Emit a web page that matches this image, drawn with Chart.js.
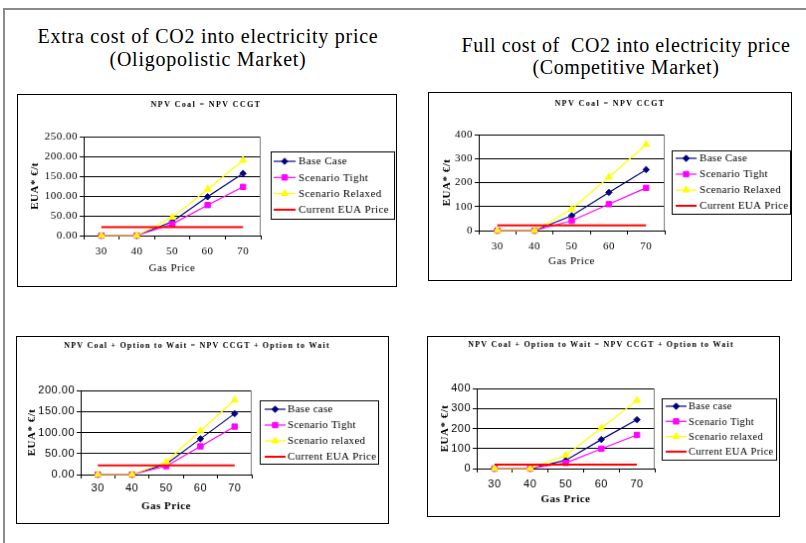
<!DOCTYPE html>
<html>
<head>
<meta charset="utf-8">
<script src="https://cdn.jsdelivr.net/npm/chart.js@4/dist/chart.umd.min.js"></script>
<style>
  html, body { margin: 0; padding: 0; background: #fff; }
  body { width: 806px; height: 543px; overflow: hidden; position: relative; font-family: "Liberation Serif", serif; }
  .frame { position: absolute; left: 3px; top: 8px; width: 820px; height: 560px; border-left: 2px solid #8a8a8a; border-top: 2px solid #8a8a8a; }
  .head { position: absolute; text-align: center; font-size: 20px; color: #000; white-space: nowrap; }
  canvas { position: absolute; border: 1px solid #000; background: #fff; }
</style>
</head>
<body>
<div class="frame"></div>
<div class="head" style="left:8px; width:400px; top:25px; line-height:23px; letter-spacing:0.75px;">Extra cost of CO2 into electricity price<br>(Oligopolistic Market)</div>
<div class="head" style="left:426px; width:400px; top:34px; line-height:22px; letter-spacing:0.6px;">Full cost of&nbsp; CO2 into electricity price<br>(Competitive Market)</div>
<canvas id="oligo"></canvas>
<canvas id="comp"></canvas>
<canvas id="oligoWait"></canvas>
<canvas id="compWait"></canvas>
<script>
// Gas price categories shared by all four panels
const gasPrice = ['30', '40', '50', '60', '70'];

// EUA break-even price (€/t) — oligopolistic market, NPV Coal = NPV CCGT
const oligoBase    = [0, 0, 35, 98, 157];
const oligoTight   = [0, 0, 29, 77, 123];
const oligoRelaxed = [0, 0, 46, 117, 190];
const oligoEUA     = [21, 21, 21, 21, 21];

// Competitive market, NPV Coal = NPV CCGT
const compBase    = [0, 0, 62, 159, 254];
const compTight   = [0, 0, 41, 110, 178];
const compRelaxed = [0, 0, 90, 223, 359];
const compEUA     = [22, 22, 22, 22, 22];

// Oligopolistic market, with option to wait
const oligoWaitBase    = [0, 0, 25, 85, 145];
const oligoWaitTight   = [0, 0, 20, 67, 114];
const oligoWaitRelaxed = [0, 0, 30, 104, 177];
const oligoWaitEUA     = [22, 22, 22, 22, 22];

// Competitive market, with option to wait
const compWaitBase    = [0, 0, 41, 145, 244];
const compWaitTight   = [0, 0, 28, 99, 168];
const compWaitRelaxed = [0, 0, 66, 202, 340];
const compWaitEUA     = [20, 20, 20, 20, 20];

const namesUpper = ['Base Case', 'Scenario Tight', 'Scenario Relaxed', 'Current EUA Price'];
const namesLower = ['Base case', 'Scenario Tight', 'Scenario relaxed', 'Current EUA Price'];
const titleNPV  = 'NPV Coal = NPV CCGT';
const titleWait = 'NPV Coal + Option to Wait = NPV CCGT + Option to Wait';
const xTitle = 'Gas Price';
const yTitle = 'EUA* €/t';

// line / marker look for each series
const seriesStyle = [
  { color: '#000080', point: 'rectRot',  radius: 3.2, width: 1.2 },
  { color: '#FF00FF', point: 'rect',     radius: 3.8, width: 1.2 },
  { color: '#FFFF00', point: 'triangle', radius: 4.0, width: 1.2 },
  { color: '#FF0000', point: null,       radius: 0,   width: 2 }
];

const SERIF = '"Liberation Serif", "Times New Roman", serif';
const SANS  = '"Liberation Sans", Arial, sans-serif';
Chart.defaults.font.family = SERIF;

function drawMarker(ctx, style, x, y, r) {
  ctx.beginPath();
  if (style === 'rectRot') {
    ctx.moveTo(x, y - r); ctx.lineTo(x + r, y); ctx.lineTo(x, y + r); ctx.lineTo(x - r, y); ctx.closePath();
  } else if (style === 'rect') {
    const s = r * Math.SQRT1_2;
    ctx.rect(x - s, y - s, 2 * s, 2 * s);
  } else if (style === 'triangle') {
    const h = r * Math.sqrt(3) / 2;
    ctx.moveTo(x, y - r); ctx.lineTo(x + h, y + r / 2); ctx.lineTo(x - h, y + r / 2); ctx.closePath();
  }
  ctx.fill(); ctx.stroke();
}

// panel heading, plot-area right edge and the boxed legend
const panelPlugin = {
  id: 'panel',
  beforeDraw(chart, args, o) {
    const ctx = chart.ctx;
    ctx.save();
    ctx.fillStyle = '#fff';
    ctx.fillRect(0, 0, chart.width, chart.height);
    ctx.restore();
    ctx.letterSpacing = o.textSpacing + 'px';
  },
  afterDraw(chart, args, o) {
    const ctx = chart.ctx;
    const a = chart.chartArea;
    ctx.save();
    ctx.strokeStyle = '#808080';
    ctx.lineWidth = 1;
    ctx.beginPath();
    ctx.moveTo(Math.round(a.right) - 0.5, a.top);
    ctx.lineTo(Math.round(a.right) - 0.5, a.bottom);
    ctx.stroke();

    ctx.fillStyle = '#000';
    ctx.font = 'bold 8px ' + SERIF;
    ctx.letterSpacing = o.titleSpacing + 'px';
    ctx.textAlign = 'center';
    ctx.textBaseline = 'middle';
    ctx.fillText(o.title, o.titleX, o.titleY);

    const L = o.legend;
    ctx.fillStyle = '#fff';
    ctx.fillRect(L.x, L.y, L.w, L.h);
    ctx.strokeStyle = '#000';
    ctx.lineWidth = 1;
    ctx.strokeRect(L.x + 0.5, L.y + 0.5, L.w, L.h);
    ctx.font = L.size + 'px ' + SERIF;
    ctx.letterSpacing = L.spacing + 'px';
    ctx.textAlign = 'left';
    chart.data.datasets.forEach((ds, i) => {
      const y = L.y + L.first + i * L.step;
      ctx.strokeStyle = ds.borderColor;
      ctx.lineWidth = ds.borderWidth;
      ctx.beginPath();
      ctx.moveTo(L.x + L.s0, y);
      ctx.lineTo(L.x + L.s1, y);
      ctx.stroke();
      if (ds.pointRadius > 0) {
        ctx.fillStyle = ds.pointBackgroundColor;
        ctx.strokeStyle = ds.pointBorderColor;
        ctx.lineWidth = 1;
        drawMarker(ctx, ds.pointStyle, L.x + (L.s0 + L.s1) / 2, y, ds.pointRadius);
      }
      ctx.fillStyle = '#000';
      ctx.fillText(ds.label, L.x + L.tx, y + 0.5);
    });
    ctx.restore();
  }
};

// page placement of each panel (border box, plot area, text anchors)
const panels = [
  { id: 'oligo', box: [17, 94, 398, 288], plot: [84, 137, 262, 237],
    series: [oligoBase, oligoTight, oligoRelaxed, oligoEUA], names: namesUpper,
    title: titleNPV, titleX: 207, titleY: 105, titleSpacing: 1.4,
    yMax: 250, yStep: 50, decimals: 2, tickFamily: SERIF, xBold: false,
    xTickY: 253, xTitleY: 270, yTitleX: 35,
    legend: { box: [272, 152, 396, 220], first: 162, step: 16.3, s0: 275, s1: 297, tx: 300, size: 11, spacing: 0.4 } },
  { id: 'comp', box: [428, 92, 793, 282], plot: [479, 135, 666, 232],
    series: [compBase, compTight, compRelaxed, compEUA], names: namesUpper,
    title: titleNPV, titleX: 611, titleY: 104, titleSpacing: 1.4,
    yMax: 400, yStep: 100, decimals: 0, tickFamily: SERIF, xBold: false,
    xTickY: 248, xTitleY: 263, yTitleX: 447,
    legend: { box: [673, 151, 792, 215], first: 159, step: 16, s0: 677, s1: 698, tx: 701, size: 11, spacing: 0.3 } },
  { id: 'oligoWait', box: [16, 336, 390, 525], plot: [81, 391, 253, 476],
    series: [oligoWaitBase, oligoWaitTight, oligoWaitRelaxed, oligoWaitEUA], names: namesLower,
    title: titleWait, titleX: 198, titleY: 346, titleSpacing: 1.2,
    yMax: 200, yStep: 50, decimals: 2, tickFamily: SANS, xBold: true,
    xTickY: 490, xTitleY: 508, yTitleX: 32,
    legend: { box: [261, 401, 380, 465], first: 410, step: 16, s0: 266, s1: 287, tx: 289, size: 11, spacing: 0.3 } },
  { id: 'compWait', box: [427, 336, 781, 518], plot: [477, 389, 656, 470],
    series: [compWaitBase, compWaitTight, compWaitRelaxed, compWaitEUA], names: namesLower,
    title: titleWait, titleX: 602, titleY: 345, titleSpacing: 1.2,
    yMax: 400, yStep: 100, decimals: 0, tickFamily: SANS, xBold: true,
    xTickY: 486, xTitleY: 501, yTitleX: 445,
    legend: { box: [663, 399, 778, 461], first: 407, step: 15.3, s0: 667, s1: 688, tx: 690, size: 10.5, spacing: 0.3 } }
];

function buildPanel(p) {
  const canvas = document.getElementById(p.id);
  const [bl, bt, br, bb] = p.box;
  const W = br - bl - 1, H = bb - bt - 1;
  canvas.width = W; canvas.height = H;
  canvas.style.left = bl + 'px';
  canvas.style.top = bt + 'px';
  const ox = bl + 1, oy = bt + 1;
  const pl = p.plot[0] - ox, pt = p.plot[1] - oy, pr = p.plot[2] - ox, pb = p.plot[3] - oy;
  const tickSize = 11, tickLH = tickSize * 1.2;
  const titleSize = 11, titleLH = titleSize * 1.2;
  const lg = p.legend;

  new Chart(canvas, {
    type: 'line',
    data: {
      labels: gasPrice,
      datasets: p.series.map((vals, i) => ({
        label: p.names[i],
        data: vals,
        borderColor: seriesStyle[i].color,
        backgroundColor: seriesStyle[i].color,
        pointBackgroundColor: seriesStyle[i].color,
        pointBorderColor: seriesStyle[i].color,
        borderWidth: seriesStyle[i].width,
        pointStyle: seriesStyle[i].point || 'circle',
        pointRadius: seriesStyle[i].radius,
        pointBorderWidth: 1,
        tension: 0,
        fill: false,
        clip: false,
        order: 3 - i
      }))
    },
    options: {
      responsive: false,
      animation: false,
      devicePixelRatio: 1,
      events: [],
      layout: { padding: { left: 0, top: pt, right: W - pr, bottom: 0 } },
      plugins: {
        legend: { display: false },
        tooltip: { enabled: false },
        title: { display: false },
        panel: {
          title: p.title, titleX: p.titleX - ox, titleY: p.titleY - oy, titleSpacing: p.titleSpacing,
          textSpacing: 0.5,
          legend: {
            x: lg.box[0] - ox, y: lg.box[1] - oy, w: lg.box[2] - lg.box[0], h: lg.box[3] - lg.box[1],
            first: lg.first - lg.box[1], step: lg.step,
            s0: lg.s0 - lg.box[0], s1: lg.s1 - lg.box[0], tx: lg.tx - lg.box[0],
            size: lg.size, spacing: lg.spacing
          }
        }
      },
      scales: {
        x: {
          offset: true,
          grid: { offset: true, drawOnChartArea: false, drawTicks: true, tickLength: 4, color: '#000', lineWidth: 1 },
          border: { color: '#000', width: 1 },
          ticks: { font: { family: p.tickFamily, size: tickSize }, color: '#000', maxRotation: 0, autoSkip: false,
                   padding: (p.xTickY - oy) - pb - 4 - tickLH / 2 },
          title: { display: true, text: xTitle, color: '#000',
                   font: { family: SERIF, size: titleSize, weight: p.xBold ? 'bold' : 'normal' },
                   padding: { top: 0, bottom: H - (p.xTitleY - oy) - titleLH / 2 } },
          afterFit(s) { s.height = H - pb; }
        },
        y: {
          min: 0, max: p.yMax,
          grid: { color: '#000', lineWidth: 1, drawTicks: true, tickLength: 4 },
          border: { color: '#000', width: 1 },
          ticks: { stepSize: p.yStep, autoSkip: false, color: '#000', padding: 2,
                   font: { family: p.tickFamily, size: tickSize },
                   callback: v => Number(v).toFixed(p.decimals) },
          title: { display: true, text: yTitle, color: '#000',
                   font: { family: SERIF, size: titleSize, weight: 'bold' },
                   padding: { top: (p.yTitleX - ox) - titleLH / 2, bottom: 0 } },
          afterFit(s) { s.width = pl; }
        }
      }
    },
    plugins: [panelPlugin]
  });
}

panels.forEach(buildPanel);
</script>
</body>
</html>
